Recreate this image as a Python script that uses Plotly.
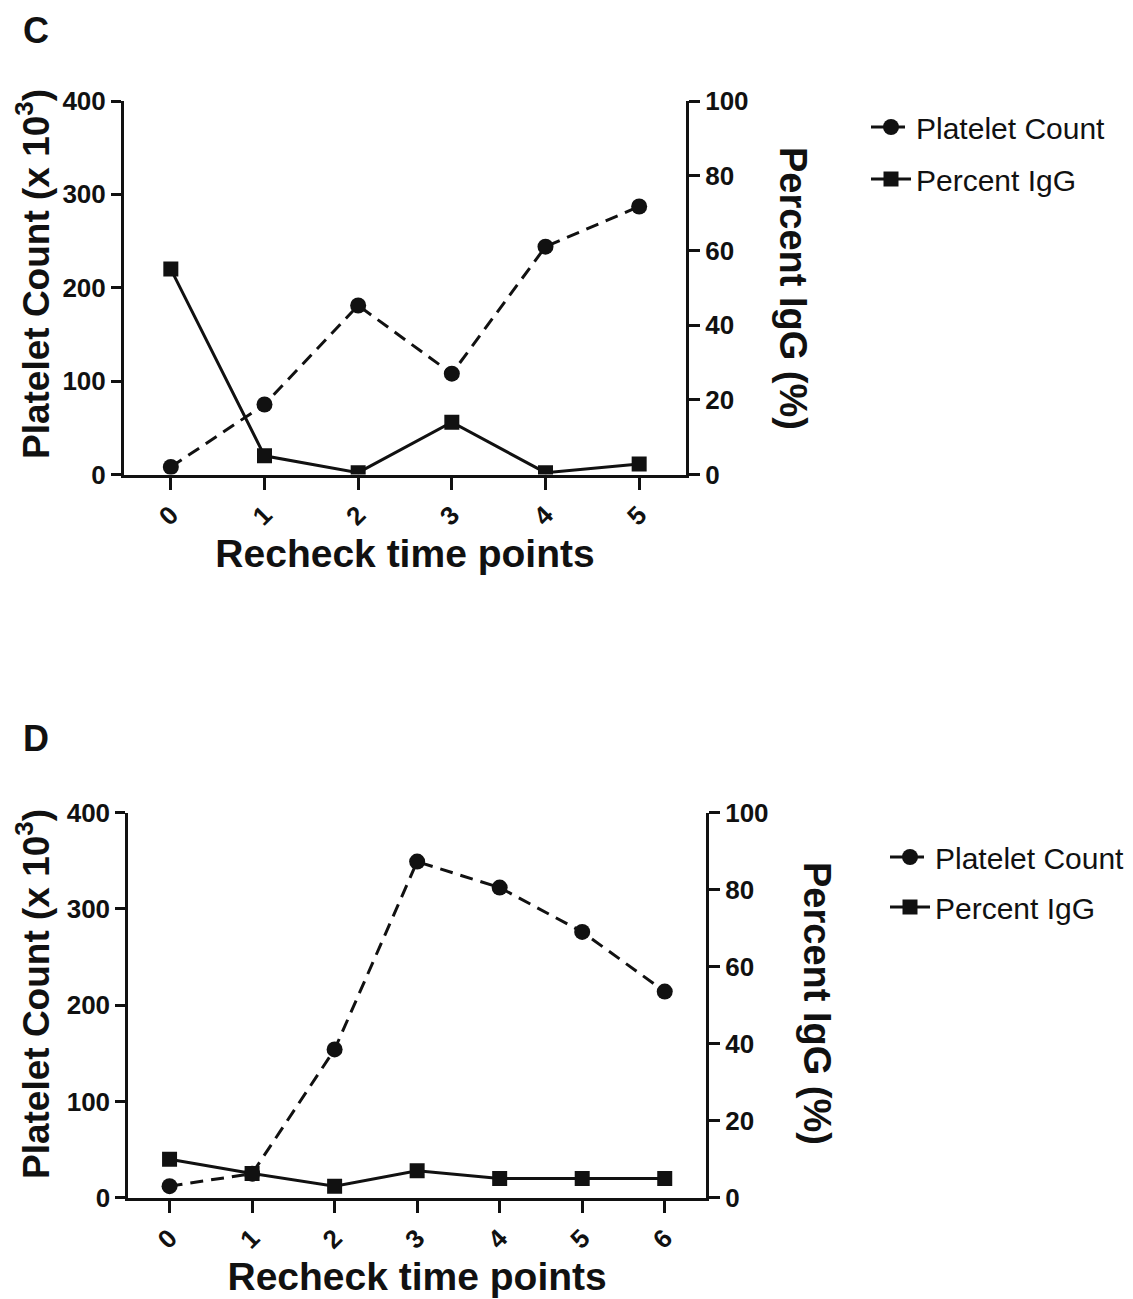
import plotly.graph_objects as go

# ---------------- data ----------------
time_c = [0, 1, 2, 3, 4, 5]
platelet_c = [8, 75, 181, 108, 244, 287]
igg_c = [55, 5, 0.5, 14, 0.5, 2.8]

time_d = [0, 1, 2, 3, 4, 5, 6]
platelet_d = [12, 25, 154, 349, 322, 276, 214]
igg_d = [10, 6.3, 3, 7, 5, 5, 5]

left_ticks = [0, 100, 200, 300, 400]
right_ticks = [0, 20, 40, 60, 80, 100]

FONT = "Arial, Liberation Sans, sans-serif"
BLACK = "#111111"
W, H = 1133, 1299
OFF = 8  # page body offset of the rendered figure

def px(x):
    return (x - OFF) / W

def py(y):
    return 1 - (y - OFF) / H

fig = go.Figure()

# IgG first (drawn underneath), platelet on top
fig.add_trace(go.Scatter(x=time_c, y=igg_c, xaxis="x", yaxis="y2", name="Percent IgG",
                         mode="lines+markers", legend="legend", legendrank=2, legendgroup="c2",
                         line=dict(color=BLACK, width=3),
                         marker=dict(symbol="square", size=15, color=BLACK)))
fig.add_trace(go.Scatter(x=time_c, y=platelet_c, xaxis="x", yaxis="y", name="Platelet Count",
                         mode="lines+markers", legend="legend", legendrank=1, legendgroup="c1",
                         line=dict(color=BLACK, width=3, dash="13px,8px"),
                         marker=dict(symbol="circle", size=16, color=BLACK)))
fig.add_trace(go.Scatter(x=time_d, y=igg_d, xaxis="x2", yaxis="y4", name="Percent IgG",
                         mode="lines+markers", legend="legend2", legendrank=2, legendgroup="d2",
                         line=dict(color=BLACK, width=3),
                         marker=dict(symbol="square", size=15, color=BLACK)))
fig.add_trace(go.Scatter(x=time_d, y=platelet_d, xaxis="x2", yaxis="y3", name="Platelet Count",
                         mode="lines+markers", legend="legend2", legendrank=1, legendgroup="d1",
                         line=dict(color=BLACK, width=3, dash="13px,8px"),
                         marker=dict(symbol="circle", size=16, color=BLACK)))

tickfont = dict(family=FONT, size=26, color=BLACK, weight="bold")
titlefont = dict(family=FONT, size=37, color=BLACK, weight="bold")
rtitlefont = dict(family=FONT, size=38, color=BLACK, weight="bold")
xtitlefont = dict(family=FONT, size=39, color=BLACK, weight="bold")
letterfont = dict(family=FONT, size=36, color=BLACK, weight="bold")

def xax(domain, anchor, n):
    return dict(domain=domain, anchor=anchor, range=[-0.5, n + 0.5], automargin=False,
                tickmode="array", tickvals=list(range(n + 1)),
                ticktext=[str(i) for i in range(n + 1)],
                tickangle=-45, ticks="outside", ticklen=12, tickwidth=3, tickcolor=BLACK,
                showline=True, linewidth=3, linecolor=BLACK, showgrid=False, zeroline=False,
                tickfont=tickfont,
                title=dict(text="Recheck time points", font=xtitlefont, standoff=10))

def yleft(domain, anchor):
    return dict(domain=domain, anchor=anchor, range=[0, 400], tickvals=left_ticks,
                automargin=False,
                ticks="outside", ticklen=10, tickwidth=3, tickcolor=BLACK,
                showline=True, linewidth=3, linecolor=BLACK, showgrid=False, zeroline=False,
                tickfont=tickfont)

def yright(overlay, anchor):
    return dict(overlaying=overlay, anchor=anchor, side="right", range=[0, 100],
                tickvals=right_ticks, automargin=False,
                ticks="outside", ticklen=11, tickwidth=3, tickcolor=BLACK,
                showline=True, linewidth=3, linecolor=BLACK, showgrid=False, zeroline=False,
                tickfont=tickfont)

xc = [px(124), px(686)]
yc = [py(474.5), py(101)]
xd = [px(128.3), px(706)]
yd = [py(1197.7), py(812.5)]

legfont = dict(family=FONT, size=30, color=BLACK)

def ann(text, x, y, font, angle=0):
    return dict(text=text, x=px(x), y=py(y), xref="paper", yref="paper",
                xanchor="center", yanchor="middle", textangle=angle,
                showarrow=False, font=font)

fig.update_layout(
    width=W, height=H,
    margin=dict(l=0, r=0, t=0, b=0, pad=0, autoexpand=False),
    paper_bgcolor="white", plot_bgcolor="white",
    showlegend=True,
    xaxis=xax(xc, "y", 5),
    yaxis=yleft(yc, "x"),
    yaxis2=yright("y", "x"),
    xaxis2=xax(xd, "y3", 6),
    yaxis3=yleft(yd, "x2"),
    yaxis4=yright("y3", "x2"),
    legend=dict(x=px(866), y=py(101), xanchor="left", yanchor="top",
                font=legfont, bgcolor="rgba(0,0,0,0)", tracegroupgap=10,
                traceorder="grouped", itemwidth=40),
    legend2=dict(x=px(885), y=py(831), xanchor="left", yanchor="top",
                 font=legfont, bgcolor="rgba(0,0,0,0)", tracegroupgap=8,
                 traceorder="grouped", itemwidth=40),
    annotations=[
        dict(text="C", x=px(36), y=1.0, xref="paper", yref="paper",
             xanchor="center", yanchor="top", showarrow=False, font=letterfont),
        ann("D", 36, 738, letterfont),
        ann("Platelet Count (x 10<sup>3</sup>)", 33, 274, titlefont, -90),
        ann("Platelet Count (x 10<sup>3</sup>)", 33, 994, titlefont, -90),
        ann("Percent IgG (%)", 793, 288, rtitlefont, 90),
        ann("Percent IgG (%)", 817, 1003, rtitlefont, 90),
    ],
)

fig.write_html("out.html")
